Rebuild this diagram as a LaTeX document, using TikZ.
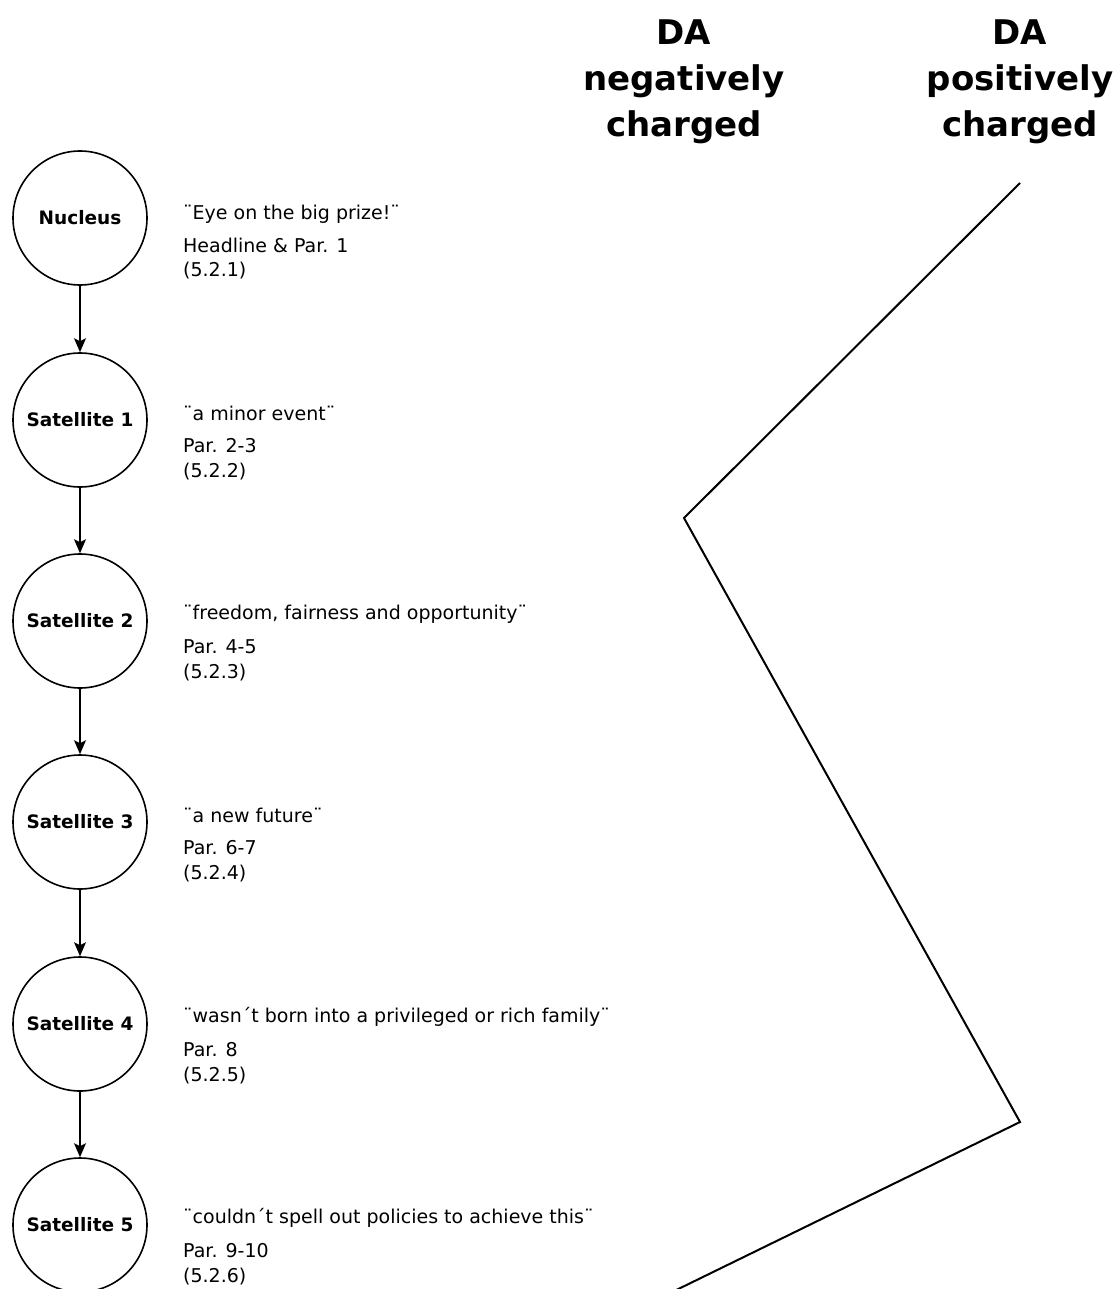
\documentclass[tikz,border=0pt]{standalone}
\usepackage{fontspec}
\setmainfont{DejaVu Sans}
\usetikzlibrary{arrows.meta}
\begin{document}
\begin{tikzpicture}[x=1pt,y=-1pt,
 sat/.style={circle,draw,line width=1.6pt,minimum size=134pt,inner sep=0pt,font=\bfseries\fontsize{18.5}{22}\selectfont},
 txt/.style={anchor=west,inner sep=0pt,font=\fontsize{19}{22}\selectfont},
 title/.style={align=center,inner sep=0pt,font=\bfseries\fontsize{34}{46}\selectfont},
 arr/.style={-{Stealth[length=14pt,width=12pt,inset=3pt]},line width=1.4pt},
 zig/.style={line width=2pt,line join=miter}]
\useasboundingbox (0,0) rectangle (1118,1289);
\clip (0,0) rectangle (1118,1289);

\node[title] (neg) at (684,82) {DA\\negatively\\charged};
\node[title] (pos) at (1020,82) {DA\\positively\\charged};

\node[sat] (n0) at (80,218) {Nucleus};
\node[sat] (n1) at (80,420) {Satellite 1};
\node[sat] (n2) at (80,621) {Satellite 2};
\node[sat] (n3) at (80,822) {Satellite 3};
\node[sat] (n4) at (80,1024) {Satellite 4};
\node[sat] (n5) at (80,1225) {Satellite 5};

\draw[arr] (n0) -- (n1);
\draw[arr] (n1) -- (n2);
\draw[arr] (n2) -- (n3);
\draw[arr] (n3) -- (n4);
\draw[arr] (n4) -- (n5);

\node[txt] (q0) at (183,214) {¨Eye on the big prize!¨};
\node[txt] (p0) at (183,245) {Headline \& Par. 1};
\node[txt] (r0) at (183,271) {(5.2.1)};

\node[txt] (q1) at (183,413) {¨a minor event¨};
\node[txt] (p1) at (183,446) {Par. 2-3};
\node[txt] (r1) at (183,472) {(5.2.2)};

\node[txt] (q2) at (183,614) {¨freedom, fairness and opportunity¨};
\node[txt] (p2) at (183,647) {Par. 4-5};
\node[txt] (r2) at (183,673) {(5.2.3)};

\node[txt] (q3) at (183,815) {¨a new future¨};
\node[txt] (p3) at (183,848) {Par. 6-7};
\node[txt] (r3) at (183,874) {(5.2.4)};

\node[txt] (q4) at (183,1017) {¨wasn´t born into a privileged or rich family¨};
\node[txt] (p4) at (183,1050) {Par. 8};
\node[txt] (r4) at (183,1076) {(5.2.5)};

\node[txt] (q5) at (183,1218) {¨couldn´t spell out policies to achieve this¨};
\node[txt] (p5) at (183,1251) {Par. 9-10};
\node[txt] (r5) at (183,1277) {(5.2.6)};

\coordinate (z0) at (1020,183);
\coordinate (z1) at (684,518);
\coordinate (z2) at (1020,1122);
\coordinate (z3) at (664,1296);
\draw[zig] (z0) -- (z1) -- (z2) -- (z3);
\end{tikzpicture}
\end{document}
